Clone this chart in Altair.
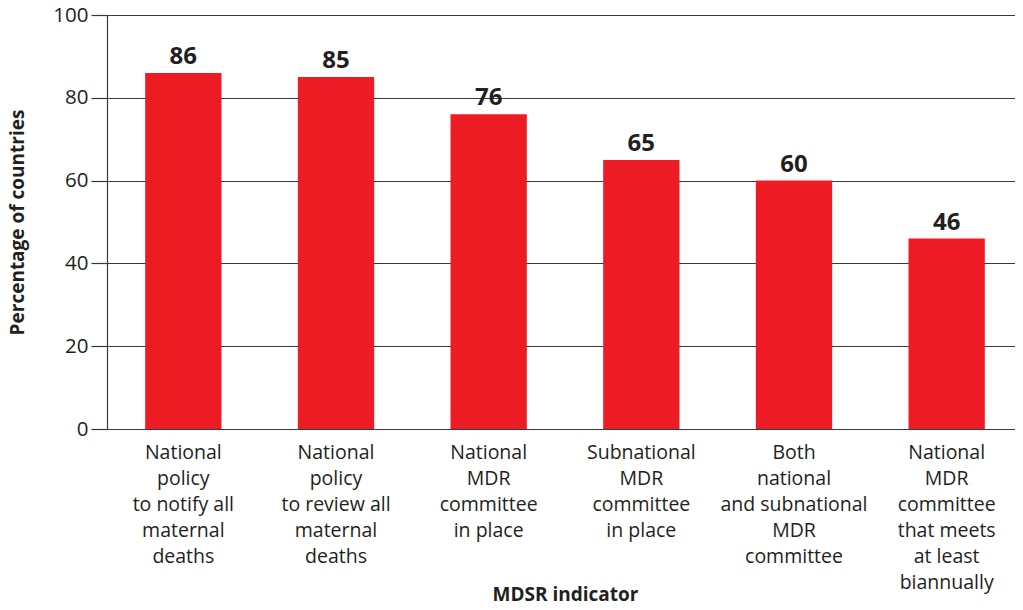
import altair as alt
import pandas as pd

categories = [
    "National|policy|to notify all|maternal|deaths",
    "National|policy|to review all|maternal|deaths",
    "National|MDR|committee|in place",
    "Subnational|MDR|committee|in place",
    "Both|national|and subnational|MDR|committee",
    "National|MDR|committee|that meets|at least|biannually",
]
values = [86, 85, 76, 65, 60, 46]
y_ticks = [0, 20, 40, 60, 80, 100]

df = pd.DataFrame({"indicator": categories, "pct": values})

FONT = "Open Sans"
TXT = "#231f20"
LINE = "#3a3a3a"
RED = "#ED1C24"

W, H = 908, 414
XR = 916

x_scale = alt.Scale(paddingInner=0.5, paddingOuter=0.25, range=[0, XR])

x_enc = alt.X(
    "indicator:N",
    sort=categories,
    scale=x_scale,
    axis=alt.Axis(
        title="MDSR indicator",
        labelExpr="split(datum.label, '|')",
        labelAngle=0,
        labelFont=FONT,
        labelFontSize=19.5,
        labelColor=TXT,
        labelLineHeight=26,
        labelPadding=14,
        labelBaseline="top",
        ticks=False,
        tickSize=0,
        domainColor=LINE,
        domainWidth=1.2,
        titleFont=FONT,
        titleFontSize=19,
        titleFontWeight="bold",
        titleColor=TXT,
        titleX=XR / 2,
        titleY=171,
        titleBaseline="alphabetic",
        titleAlign="center",
    ),
)

y_enc = alt.Y(
    "pct:Q",
    scale=alt.Scale(domain=[0, 100], nice=False),
    axis=alt.Axis(
        title="Percentage of countries",
        values=y_ticks,
        labelFont=FONT,
        labelFontSize=20.5,
        labelColor=TXT,
        labelPadding=3,
        tickSize=16,
        tickColor=LINE,
        tickWidth=1.2,
        grid=True,
        gridColor=LINE,
        gridWidth=1.2,
        domainColor=LINE,
        domainWidth=1.2,
        titleFont=FONT,
        titleFontSize=19,
        titleFontWeight="bold",
        titleColor=TXT,
        titleX=-90,
        titleY=H / 2,
        titleAngle=-90,
        titleBaseline="middle",
        titleAlign="center",
    ),
)

bars = alt.Chart(df).mark_bar(color=RED).encode(x=x_enc, y=y_enc)

labels = alt.Chart(df).mark_text(
    font=FONT, fontSize=24, fontWeight="bold", color=TXT,
    baseline="alphabetic", dy=-9,
).encode(
    x=alt.X("indicator:N", sort=categories, scale=x_scale),
    y=alt.Y("pct:Q"),
    text=alt.Text("pct:Q"),
)

chart = (
    alt.layer(bars, labels)
    .properties(
        width=W,
        height=H,
        autosize=alt.AutoSizeParams(type="none"),
        padding={"left": 99, "top": 7, "right": 0, "bottom": 173},
    )
    .configure_view(stroke=None)
    .configure(background="white")
)

chart.save("out.html", embed_options={"renderer": "svg", "actions": False})
